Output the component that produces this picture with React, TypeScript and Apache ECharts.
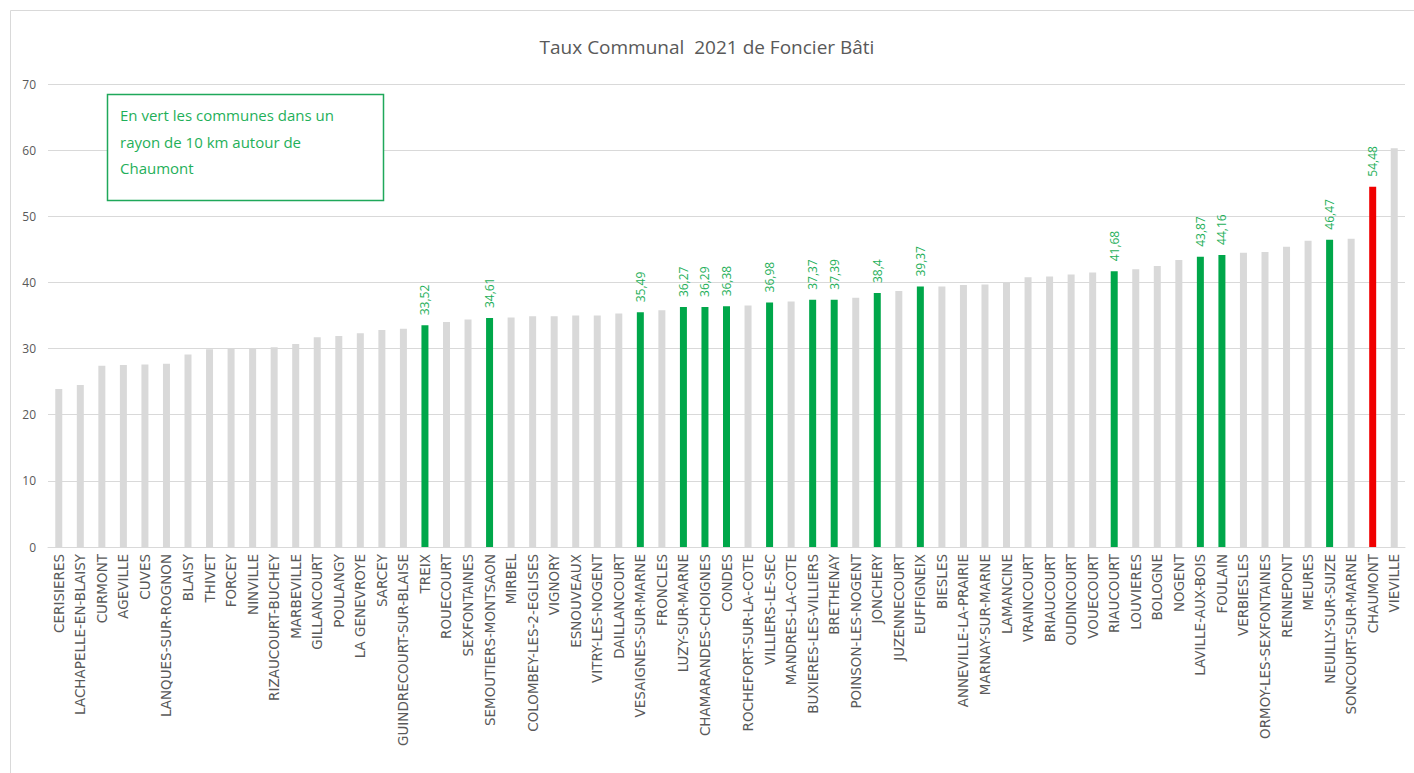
import React, { useEffect, useRef } from "react";
import * as echarts from "echarts";

const titre = "Taux Communal  2021 de Foncier Bâti";
const noteLignes = ["En vert les communes dans un", "rayon de 10 km autour de", "Chaumont"];

const communes = [
  "CERISIERES", "LACHAPELLE-EN-BLAISY", "CURMONT", "AGEVILLE", "CUVES", "LANQUES-SUR-ROGNON",
  "BLAISY", "THIVET", "FORCEY", "NINVILLE", "RIZAUCOURT-BUCHEY", "MARBEVILLE", "GILLANCOURT",
  "POULANGY", "LA GENEVROYE", "SARCEY", "GUINDRECOURT-SUR-BLAISE", "TREIX", "ROUECOURT",
  "SEXFONTAINES", "SEMOUTIERS-MONTSAON", "MIRBEL", "COLOMBEY-LES-2-EGLISES", "VIGNORY",
  "ESNOUVEAUX", "VITRY-LES-NOGENT", "DAILLANCOURT", "VESAIGNES-SUR-MARNE", "FRONCLES",
  "LUZY-SUR-MARNE", "CHAMARANDES-CHOIGNES", "CONDES", "ROCHEFORT-SUR-LA-COTE", "VILLIERS-LE-SEC",
  "MANDRES-LA-COTE", "BUXIERES-LES-VILLIERS", "BRETHENAY", "POINSON-LES-NOGENT", "JONCHERY",
  "JUZENNECOURT", "EUFFIGNEIX", "BIESLES", "ANNEVILLE-LA-PRAIRIE", "MARNAY-SUR-MARNE",
  "LAMANCINE", "VRAINCOURT", "BRIAUCOURT", "OUDINCOURT", "VOUECOURT", "RIAUCOURT", "LOUVIERES",
  "BOLOGNE", "NOGENT", "LAVILLE-AUX-BOIS", "FOULAIN", "VERBIESLES", "ORMOY-LES-SEXFONTAINES",
  "RENNEPONT", "MEURES", "NEUILLY-SUR-SUIZE", "SONCOURT-SUR-MARNE", "CHAUMONT", "VIEVILLE",
];

const taux = [
  23.9, 24.5, 27.4, 27.5, 27.6, 27.7,
  29.1, 29.9, 30.0, 30.0, 30.2, 30.7, 31.7,
  31.9, 32.3, 32.8, 33.0, 33.52, 34.0,
  34.4, 34.61, 34.7, 34.9, 34.9,
  35.0, 35.0, 35.3, 35.49, 35.8,
  36.27, 36.29, 36.38, 36.5, 36.98,
  37.1, 37.37, 37.39, 37.7, 38.4,
  38.7, 39.37, 39.4, 39.6, 39.7,
  40.0, 40.8, 40.9, 41.2, 41.5, 41.68, 42.0,
  42.5, 43.4, 43.87, 44.16, 44.5, 44.6,
  45.4, 46.3, 46.47, 46.6, 54.48, 60.3,
];

// g = hors rayon, v = dans un rayon de 10 km, r = Chaumont
const groupes = [
  "g", "g", "g", "g", "g", "g",
  "g", "g", "g", "g", "g", "g", "g",
  "g", "g", "g", "g", "v", "g",
  "g", "v", "g", "g", "g",
  "g", "g", "g", "v", "g",
  "v", "v", "v", "g", "v",
  "g", "v", "v", "g", "v",
  "g", "v", "g", "g", "g",
  "g", "g", "g", "g", "g", "v", "g",
  "g", "g", "v", "v", "g", "g",
  "g", "g", "v", "g", "r", "g",
];

const yTicks = [0, 10, 20, 30, 40, 50, 60, 70];

const couleurs: Record<string, string> = { g: "#D9D9D9", v: "#00A74A", r: "#F00000" };
const VERT_TEXTE = "#1FB05A";
const GRIS_TEXTE = "#595959";

export default function App() {
  const ref = useRef<HTMLDivElement>(null);
  useEffect(() => {
    document.body.style.margin = "0";
    const chart = echarts.init(ref.current!, null, { renderer: "svg" });
    const data = taux.map((v, i) => {
      const g = groupes[i];
      return {
        value: v,
        itemStyle: { color: couleurs[g] },
        label: {
          show: g !== "g",
          position: "top",
          rotate: 90,
          align: "left",
          verticalAlign: "middle",
          distance: 10,
          color: VERT_TEXTE,
          fontSize: 12,
          fontFamily: "Open Sans",
          formatter: () => String(v).replace(".", ","),
        },
      };
    });
    chart.setOption({
      animation: false,
      backgroundColor: "#ffffff",
      title: {
        text: titre,
        left: "center",
        top: 32,
        textStyle: { fontFamily: "Open Sans", fontSize: 19, fontWeight: "normal", color: GRIS_TEXTE },
      },
      grid: { left: 48, right: 9, top: 84, bottom: 226, containLabel: false },
      xAxis: {
        type: "category",
        data: communes,
        axisTick: { show: false },
        axisLine: { lineStyle: { color: "#D9D9D9" } },
        axisLabel: {
          interval: 0,
          rotate: 90,
          margin: 7,
          fontSize: 13.5,
          fontFamily: "DejaVu Sans",
          color: GRIS_TEXTE,
        },
      },
      yAxis: {
        type: "value",
        min: yTicks[0],
        max: yTicks[yTicks.length - 1],
        interval: 10,
        axisLine: { show: false },
        axisTick: { show: false },
        splitLine: { lineStyle: { color: "#D9D9D9" } },
        axisLabel: { fontSize: 12, fontFamily: "Open Sans", color: GRIS_TEXTE, margin: 12 },
      },
      series: [
        {
          type: "bar",
          data,
          barWidth: 7,
        },
      ],
      graphic: [
        {
          type: "rect",
          silent: true,
          shape: { x: 10.5, y: 10.5, width: 1420, height: 800 },
          style: { fill: "none", stroke: "#D9D9D9", lineWidth: 1 },
          z: 0,
        },
        {
          type: "rect",
          shape: { x: 107.5, y: 94.5, width: 276, height: 106 },
          style: { fill: "#ffffff", stroke: "#1FA85A", lineWidth: 1.5 },
          z: 10,
        },
        {
          type: "text",
          x: 120,
          y: 102,
          z: 11,
          style: {
            text: noteLignes.join("\n"),
            fill: VERT_TEXTE,
            fontSize: 15,
            fontFamily: "Open Sans",
            lineHeight: 26.5,
          },
        },
      ],
    });
    return () => chart.dispose();
  }, []);
  return <div ref={ref} style={{ width: 1414, height: 773 }} />;
}
